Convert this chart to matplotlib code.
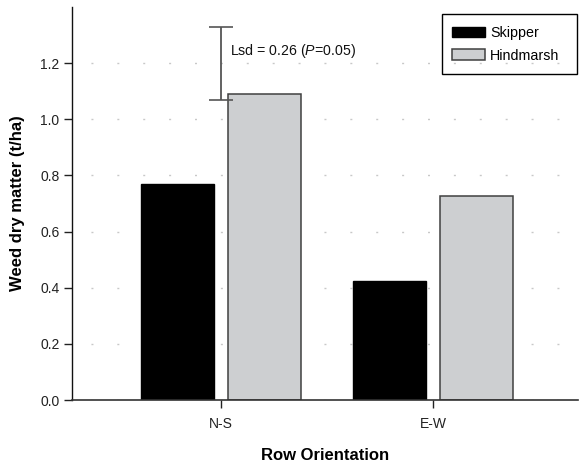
import matplotlib
matplotlib.use("Agg")
import matplotlib.pyplot as plt
from matplotlib.patches import Rectangle
import numpy as np

# Data
orientations = ["N-S", "E-W"]
skipper = [0.77, 0.425]
hindmarsh = [1.09, 0.725]
lsd_value = 0.26
lsd_center = 1.2
y_ticks = [0.0, 0.2, 0.4, 0.6, 0.8, 1.0, 1.2]

plt.rcParams["font.family"] = ["Liberation Sans", "DejaVu Sans"]
plt.rcParams["mathtext.fontset"] = "custom"
plt.rcParams["mathtext.rm"] = "Liberation Sans"
plt.rcParams["mathtext.it"] = "Liberation Sans:italic"
plt.rcParams["lines.scale_dashes"] = False

W, H = 579, 466
fig = plt.figure(figsize=(W / 100, H / 100), dpi=100)
ax = fig.add_axes([72 / W, 66 / H, 506 / W, 393 / H])

x = np.arange(len(orientations))
width = 0.345
offset = 0.206

ax.bar(x - offset, skipper, width, color="black", edgecolor="black",
       linewidth=1.0, label="Skipper", zorder=2)
ax.bar(x + offset, hindmarsh, width, color="#cdcfd1", edgecolor="#404040",
       linewidth=1.1, label="Hindmarsh", zorder=2)

# LSD bar over the N-S group
ax.errorbar([x[0]], [lsd_center], yerr=[lsd_value / 2], fmt="none",
            ecolor="#555555", elinewidth=1.3, capsize=8.4, capthick=1.2, zorder=3)
ax.text(x[0] + 0.042, 1.245, r"Lsd = %.2f ($\mathit{P}$=0.05)" % lsd_value,
        fontsize=10.2, ha="left", va="center", color="#111111")

ax.set_xlim(-0.703, 1.684)
ax.set_ylim(0, 1.4)
ax.set_xticks(x)
ax.set_xticklabels(orientations)
ax.set_yticks(y_ticks)
ax.set_yticklabels(["%.1f" % v for v in y_ticks])

ax.tick_params(axis="y", direction="out", length=6, width=1, pad=3,
               labelsize=10, colors="#222222")
ax.tick_params(axis="x", direction="out", length=5.5, width=1, pad=7,
               labelsize=10, colors="#222222")

for side in ("top", "right"):
    ax.spines[side].set_visible(False)
ax.spines["left"].set_color("#111111")
ax.spines["left"].set_linewidth(1.0)
ax.spines["bottom"].set_color("#333333")
ax.spines["bottom"].set_linewidth(1.2)

# Sparse dotted grid
ax.set_axisbelow(True)
ax.yaxis.grid(True, color="#c8c8c8", linewidth=1.0,
              linestyle=(5.0, (1.44, 17.2)))
ax.xaxis.grid(False)

ax.set_xlabel("Row Orientation", fontsize=12, fontweight="bold")
ax.set_ylabel("Weed dry matter (t/ha)", fontsize=12, fontweight="bold")
ax.xaxis.set_label_coords(0.5, -0.14)
ax.xaxis.label.set_va("center")
ax.yaxis.set_label_coords(-0.108, 0.5)
ax.yaxis.label.set_va("center")

# Legend entries without their own frame, inside a fixed box
leg = ax.legend(loc="upper left",
                bbox_to_anchor=(451.7 / W, (H - 26.3) / H),
                bbox_transform=fig.transFigure,
                fontsize=10.3, frameon=False,
                handlelength=2.3, handleheight=0.72, handletextpad=0.4,
                labelspacing=0.58, borderpad=0, borderaxespad=0)
fig.add_artist(Rectangle((441.7 / W, (H - 74.3) / H), 135.6 / W, 60 / H,
                         transform=fig.transFigure, fill=False,
                         edgecolor="black", linewidth=1.0))

fig.savefig("out.png", dpi=100)
